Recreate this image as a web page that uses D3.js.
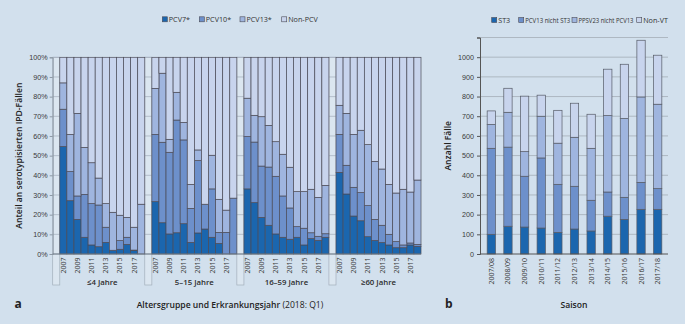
<!DOCTYPE html>
<html>
<head>
<meta charset="utf-8">
<script src="https://cdn.jsdelivr.net/npm/d3@7"></script>
<style>
  html, body { margin: 0; padding: 0; background: #d2e0ed; }
  svg { display: block; font-family: "Open Sans", "Noto Sans", sans-serif; }
</style>
</head>
<body>
<div id="chart"></div>
<script>
// ---- panel a: share of serotyped IPD cases (%), per age group, 2007–2018
const years = [2007, 2008, 2009, 2010, 2011, 2012, 2013, 2014, 2015, 2016, 2017, 2018];
const ageGroups = ["≤4 Jahre", "5–15 Jahre", "16–59 Jahre", "≥60 Jahre"];
const keysA = ["PCV7*", "PCV10*", "PCV13*", "Non-PCV"];

// one row per age group, one value per year
const pcv7 = [
  [54.6, 27.1, 17.6, 8.5, 4.6, 3.7, 5.9, 1.9, 2.4, 4.9, 1.7, 0],
  [26.6, 15.9, 10.2, 10.8, 15.4, 5.9, 10.7, 12.7, 8.5, 5.4, 0, 0],
  [33.1, 26.1, 18.6, 14.6, 10.2, 8.5, 7.5, 8.5, 4.6, 7.8, 6.9, 8.5],
  [41.5, 30.5, 19.3, 16.9, 8.8, 6.9, 5.8, 4.6, 3.2, 3.2, 4.6, 3.9]
];
const pcv10 = [
  [19.0, 14.8, 11.9, 21.8, 21.0, 21.2, 7.7, 0, 4.4, 3.6, 0.3, 0],
  [34.2, 40.9, 41.5, 57.3, 42.6, 17.3, 36.8, 12.6, 24.6, 5.6, 11.0, 28.4],
  [26.6, 30.8, 26.1, 29.6, 29.3, 21.0, 15.9, 5.4, 8.5, 3.0, 2.1, 1.8],
  [19.3, 14.6, 14.6, 14.3, 15.8, 10.7, 8.8, 5.4, 3.1, 1.4, 1.0, 1.0]
];
const pcv13 = [
  [13.4, 18.9, 42.0, 23.9, 20.8, 13.7, 12.0, 19.3, 12.9, 10.1, 11.6, 25.3],
  [23.4, 35.1, 6.6, 14.1, 8.9, 12.2, 5.4, 0, 17.1, 16.8, 11.3, 0],
  [19.5, 13.6, 25.1, 21.2, 17.6, 21.2, 20.7, 17.8, 18.6, 22.1, 19.8, 24.6],
  [14.8, 26.4, 26.9, 31.7, 31.0, 29.5, 28.6, 25.4, 24.7, 28.3, 25.9, 32.7]
];
const nonPcv = [
  [13.0, 39.2, 28.5, 45.8, 53.6, 61.4, 74.4, 78.8, 80.3, 81.4, 86.4, 74.7],
  [15.8, 8.1, 41.7, 17.8, 33.1, 64.6, 47.1, 74.7, 49.8, 72.2, 77.7, 71.6],
  [20.8, 29.5, 30.2, 34.6, 42.9, 49.3, 55.9, 68.3, 68.3, 67.1, 71.2, 65.1],
  [24.4, 28.5, 39.2, 37.1, 44.4, 52.9, 56.8, 64.6, 69.0, 67.1, 68.5, 62.4]
];
const pctTicks = [0, 10, 20, 30, 40, 50, 60, 70, 80, 90, 100];

// ---- panel b: number of cases per season
const seasons = ["2007/08", "2008/09", "2009/10", "2010/11", "2011/12", "2012/13",
  "2013/14", "2014/15", "2015/16", "2016/17", "2017/18"];
const keysB = ["ST3", "PCV13 nicht ST3", "PPSV23 nicht PCV13", "Non-VT"];
const st3 = [100, 141, 137, 132, 110, 127, 117, 192, 176, 227, 227];
const pcv13NotSt3 = [437, 402, 258, 356, 244, 217, 156, 123, 112, 137, 105];
const ppsv23NotPcv13 = [121, 177, 125, 212, 209, 249, 264, 388, 400, 434, 429];
const nonVt = [69, 122, 282, 107, 167, 173, 173, 236, 276, 288, 249];
const countTicks = [0, 100, 200, 300, 400, 500, 600, 700, 800, 900, 1000];

const colors = ["#1b66ae", "#6d90cb", "#9fb5df", "#c8d4ed"];
const barStroke = "#4b4b57";
const W = 685, H = 324;

const svg = d3.select("#chart").append("svg")
  .attr("width", W).attr("height", H);

// ================= panel a =================
const slotsPerGroup = years.length + 1;
const x = d3.scaleBand()
  .domain(d3.range(ageGroups.length * slotsPerGroup))
  .range([52.7, 421]);
const y = d3.scaleLinear().domain([0, 100]).range([254, 57.3]);
const slot = (g, i) => g * slotsPerGroup + 1 + i;

const rowsA = [];
ageGroups.forEach((grp, g) => {
  years.forEach((yr, i) => {
    rowsA.push({ g, i, year: yr,
      "PCV7*": pcv7[g][i], "PCV10*": pcv10[g][i],
      "PCV13*": pcv13[g][i], "Non-PCV": nonPcv[g][i] });
  });
});
const stackA = d3.stack().keys(keysA)(rowsA);

const a = svg.append("g");

// light gap columns between groups
const gaps = a.append("g");
ageGroups.forEach((grp, g) => {
  const gx = x(g * slotsPerGroup);
  gaps.append("rect")
    .attr("x", gx).attr("y", y(100))
    .attr("width", x.bandwidth()).attr("height", 285 - y(100))
    .attr("fill", "#dbe6f0")
    .attr("stroke", "#a3aebb").attr("stroke-width", 0.7);
  gaps.selectAll(null)
    .data(pctTicks)
    .join("line")
    .attr("x1", gx).attr("x2", gx + x.bandwidth())
    .attr("y1", d => y(d)).attr("y2", d => y(d))
    .attr("stroke", "#a3aebb").attr("stroke-width", 0.7);
});

a.append("g")
  .selectAll("g")
  .data(stackA)
  .join("g")
  .attr("fill", (d, k) => colors[k])
  .selectAll("rect")
  .data(d => d)
  .join("rect")
  .attr("x", d => x(slot(d.data.g, d.data.i)))
  .attr("width", x.bandwidth())
  .attr("y", d => y(d[1]))
  .attr("height", d => y(d[0]) - y(d[1]))
  .attr("stroke", barStroke)
  .attr("stroke-width", 0.7);

// y axis
const yAxisA = a.append("g")
  .attr("transform", `translate(${x.range()[0]},0)`)
  .call(d3.axisLeft(y).tickValues(pctTicks).tickFormat(d => d + "%").tickSize(3).tickPadding(2));
yAxisA.select(".domain").attr("stroke", "#8d98a4");
yAxisA.selectAll(".tick line").attr("stroke", "#8d98a4");
yAxisA.selectAll("text").attr("font-size", 7.2).attr("fill", "#3a3a3a");

// baseline
a.append("line")
  .attr("x1", x.range()[0]).attr("x2", x.range()[1])
  .attr("y1", y(0)).attr("y2", y(0))
  .attr("stroke", "#6f7a86").attr("stroke-width", 1);

// year labels
a.append("g")
  .selectAll("text")
  .data(rowsA.filter(d => d.i % 2 === 0))
  .join("text")
  .attr("transform", d => `translate(${x(slot(d.g, d.i)) + x.bandwidth() / 2 + 2.5},257.5) rotate(-90)`)
  .attr("text-anchor", "end")
  .attr("font-size", 7)
  .attr("fill", "#3a3a3a")
  .text(d => d.year);

// group labels
a.append("g")
  .selectAll("text")
  .data(ageGroups)
  .join("text")
  .attr("x", (d, g) => (x(slot(g, 0)) + x(slot(g, years.length - 1)) + x.bandwidth()) / 2)
  .attr("y", 285)
  .attr("text-anchor", "middle")
  .attr("font-size", 7.8)
  .attr("font-weight", 600)
  .attr("fill", "#2b2b2b")
  .text(d => d);

a.append("text")
  .attr("transform", `translate(22,${y(50)}) rotate(-90)`)
  .attr("text-anchor", "middle")
  .attr("font-size", 8.6)
  .attr("font-weight", 600)
  .attr("fill", "#222")
  .text("Anteil an serotypisierten IPD-Fällen");

const titleA = a.append("text")
  .attr("x", 230).attr("y", 307.5)
  .attr("text-anchor", "middle")
  .attr("font-size", 8.6)
  .attr("fill", "#222");
titleA.append("tspan").attr("font-weight", 600).text("Altersgruppe und Erkrankungsjahr ");
titleA.append("tspan").text("(2018: Q1)");

a.append("text")
  .attr("x", 14.5).attr("y", 307.5)
  .attr("font-size", 12).attr("font-weight", 700).attr("fill", "#222")
  .text("a");

// legend a
const legA = a.append("g").selectAll("g")
  .data(keysA)
  .join("g")
  .attr("transform", (d, k) => `translate(${[162.3, 199.3, 240, 281.7][k]},16.8)`);
legA.append("rect")
  .attr("width", 5).attr("height", 5)
  .attr("fill", (d, k) => colors[k])
  .attr("stroke", barStroke).attr("stroke-width", 0.6);
legA.append("text")
  .attr("x", 6.5).attr("y", 5)
  .attr("font-size", 7.2).attr("fill", "#333")
  .text(d => d);

// ================= panel b =================
const xb = d3.scaleBand().domain(seasons).range([483, 666]).paddingInner(0.5).paddingOuter(0.25);
const yb = d3.scaleLinear().domain([0, 1100]).range([254, 37.5]);

const rowsB = seasons.map((s, i) => ({ season: s,
  "ST3": st3[i], "PCV13 nicht ST3": pcv13NotSt3[i],
  "PPSV23 nicht PCV13": ppsv23NotPcv13[i], "Non-VT": nonVt[i] }));
const stackB = d3.stack().keys(keysB)(rowsB);

const b = svg.append("g");

// gridlines
b.append("g")
  .selectAll("line")
  .data(countTicks.concat([1100]).filter(d => d > 0))
  .join("line")
  .attr("x1", 480).attr("x2", 668)
  .attr("y1", d => yb(d)).attr("y2", d => yb(d))
  .attr("stroke", "#a9b3bd").attr("stroke-width", 0.9);

b.append("g")
  .selectAll("g")
  .data(stackB)
  .join("g")
  .attr("fill", (d, k) => colors[k])
  .selectAll("rect")
  .data(d => d)
  .join("rect")
  .attr("x", d => xb(d.data.season))
  .attr("width", xb.bandwidth())
  .attr("y", d => yb(d[1]))
  .attr("height", d => yb(d[0]) - yb(d[1]))
  .attr("stroke", "#555a66")
  .attr("stroke-width", 0.7);

const yAxisB = b.append("g")
  .attr("transform", "translate(480,0)")
  .call(d3.axisLeft(yb).tickValues(countTicks.concat([1100])).tickFormat(d => d > 1000 ? "" : d).tickSize(3).tickPadding(3));
yAxisB.select(".domain").attr("stroke", "#555");
yAxisB.selectAll(".tick line").attr("stroke", "#555");
yAxisB.selectAll("text").attr("font-size", 7.2).attr("fill", "#3a3a3a");

b.append("line")
  .attr("x1", 480).attr("x2", 668)
  .attr("y1", yb(0)).attr("y2", yb(0))
  .attr("stroke", "#555").attr("stroke-width", 1);

b.append("g")
  .selectAll("text")
  .data(seasons)
  .join("text")
  .attr("transform", d => `translate(${xb(d) + xb.bandwidth() / 2 + 2.5},258) rotate(-90)`)
  .attr("text-anchor", "end")
  .attr("font-size", 7)
  .attr("fill", "#3a3a3a")
  .text(d => d);

b.append("text")
  .attr("transform", `translate(451,${yb(550)}) rotate(-90)`)
  .attr("text-anchor", "middle")
  .attr("font-size", 8.6)
  .attr("font-weight", 600)
  .attr("fill", "#222")
  .text("Anzahl Fälle");

b.append("text")
  .attr("x", 574).attr("y", 307.5)
  .attr("text-anchor", "middle")
  .attr("font-size", 8.6)
  .attr("font-weight", 600)
  .attr("fill", "#222")
  .text("Saison");

b.append("text")
  .attr("x", 445).attr("y", 307.5)
  .attr("font-size", 12).attr("font-weight", 700).attr("fill", "#222")
  .text("b");

// legend b: the two long labels are squeezed to the widths seen in the reference
const legBX = [491.7, 518.7, 572, 636.7];
const legBW = [null, 45, 55, null];
const legB = b.append("g").selectAll("g")
  .data(keysB)
  .join("g")
  .attr("transform", (d, k) => `translate(${legBX[k]},17.5)`);
legB.append("rect")
  .attr("width", 5).attr("height", 5)
  .attr("fill", (d, k) => colors[k])
  .attr("stroke", barStroke).attr("stroke-width", 0.6);
legB.append("text")
  .attr("x", 6.5).attr("y", 5)
  .attr("font-size", 7.2).attr("fill", "#333")
  .attr("textLength", (d, k) => legBW[k])
  .attr("lengthAdjust", "spacingAndGlyphs")
  .text(d => d);
</script>
</body>
</html>
